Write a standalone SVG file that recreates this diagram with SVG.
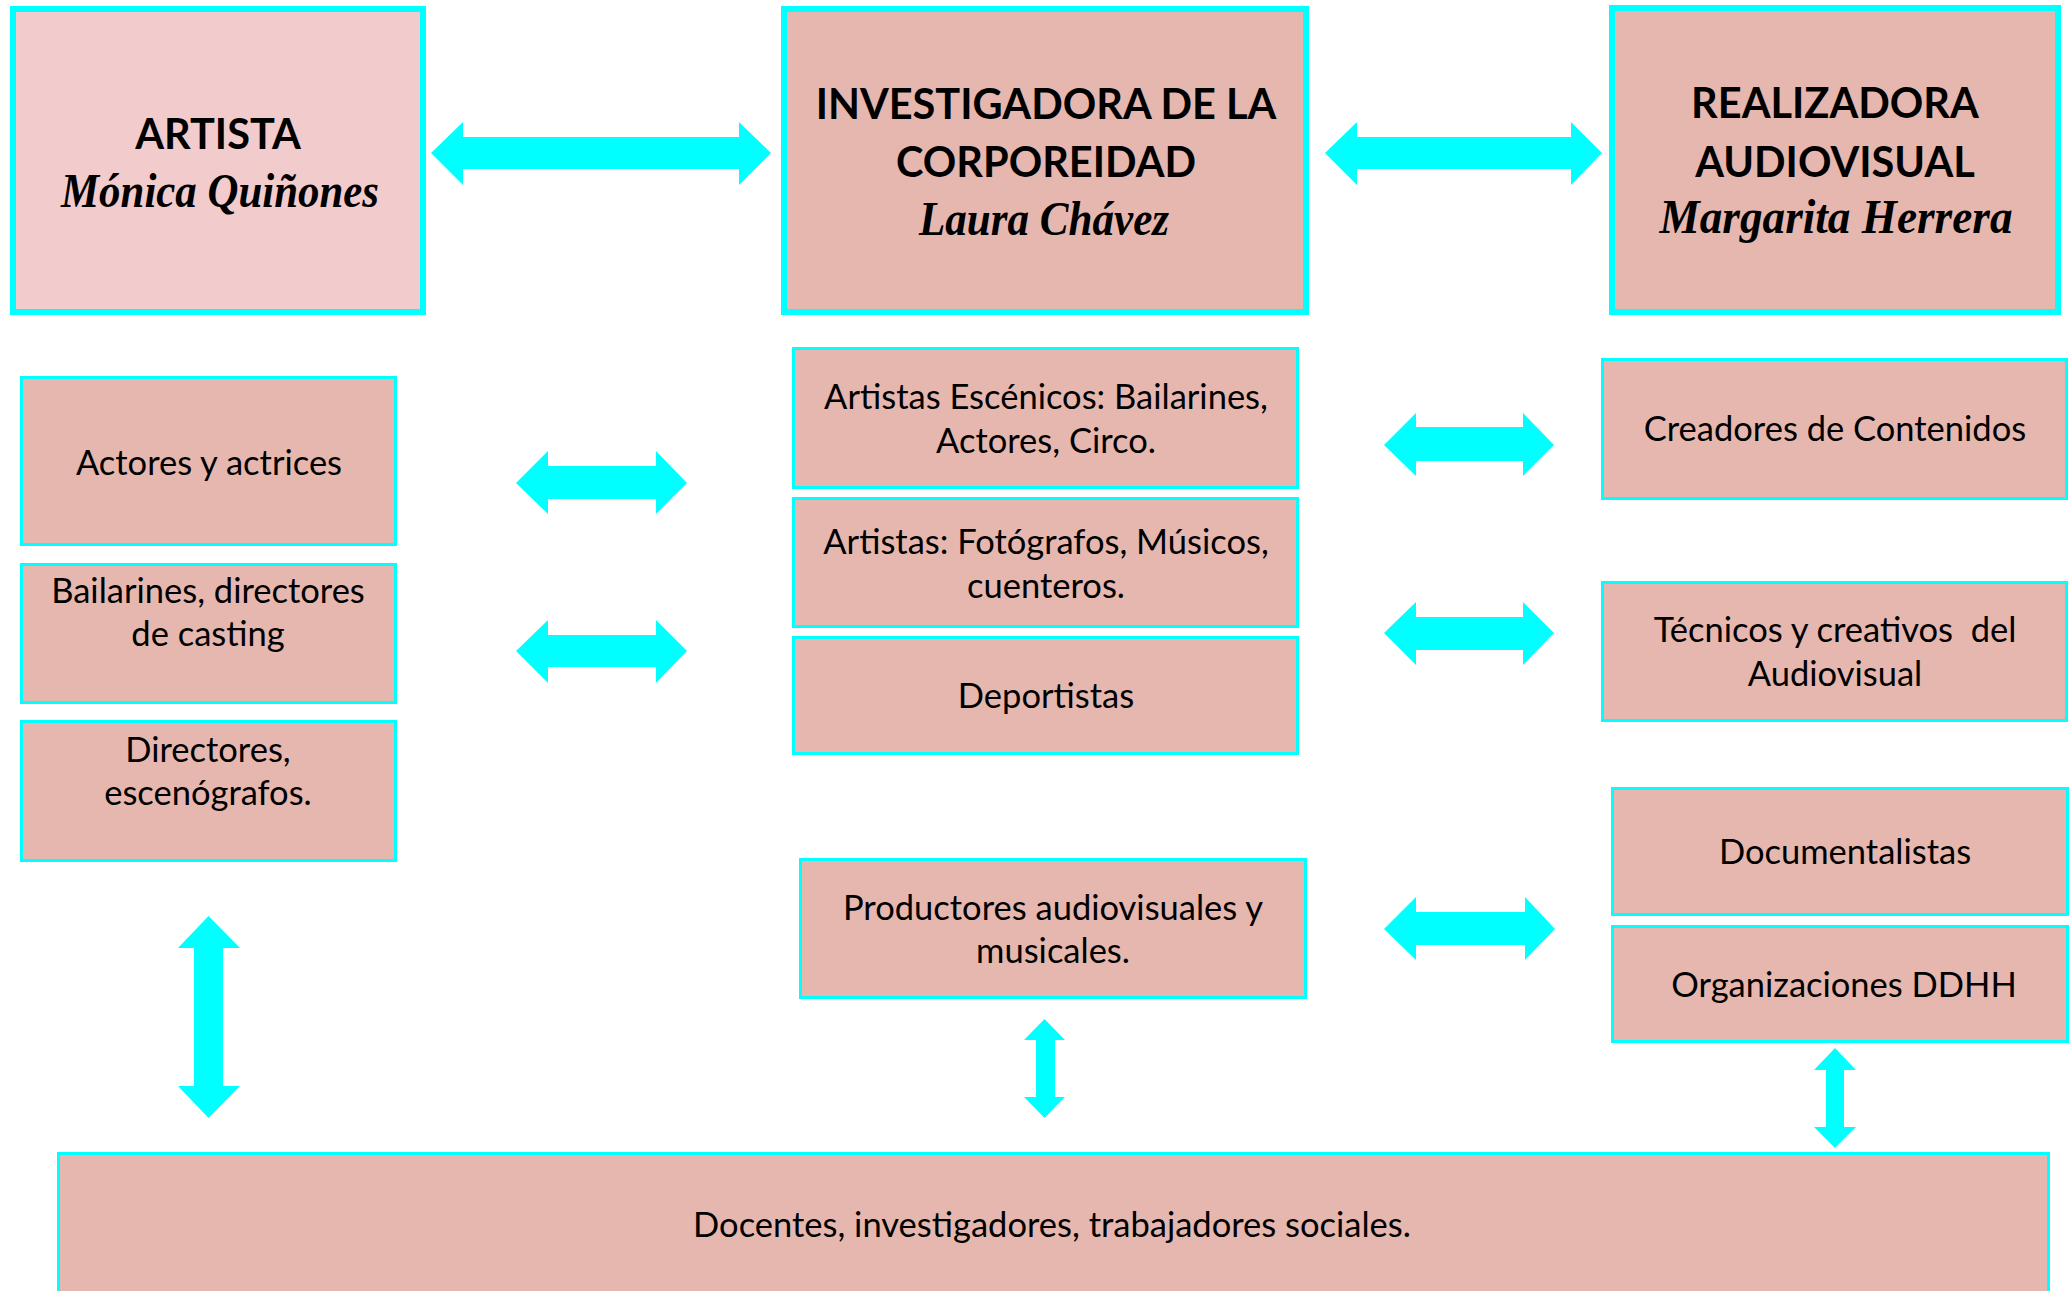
<svg xmlns="http://www.w3.org/2000/svg" width="2070" height="1291" viewBox="0 0 2070 1291">
<style>
.big{fill:#E6B7AF;stroke:#00FFFF;stroke-width:6}
.bigl{fill:#F2CCCC;stroke:#00FFFF;stroke-width:6}
.box{fill:#E6B7AF;stroke:#00FFFF;stroke-width:3}
.h{font-family:Lato,"Liberation Sans",sans-serif;font-weight:bold;font-size:41.5px;fill:#000;text-anchor:middle}
.n{font-family:"Liberation Serif",serif;font-weight:bold;font-style:italic;font-size:48px;fill:#000;text-anchor:middle}
.t{font-family:Lato,"Liberation Sans",sans-serif;font-size:34.5px;fill:#000;text-anchor:middle}
.arr{fill:#00FFFF}
</style>
<rect width="2070" height="1291" fill="#FFFFFF"/>
<g id="connectors">
<polygon class="arr" points="431,153 463,122 463,137 739,137 739,122 771,153 739,185 739,169 463,169 463,185"/>
<polygon class="arr" points="1325,153 1357,122 1357,137 1571,137 1571,122 1602,153 1571,185 1571,169 1357,169 1357,185"/>
<polygon class="arr" points="516,483 548,451 548,466 656,466 656,451 687,483 656,514 656,499 548,499 548,514"/>
<polygon class="arr" points="516,651 548,620 548,635 656,635 656,620 687,651 656,683 656,667 548,667 548,683"/>
<polygon class="arr" points="1384,445 1416,413 1416,427 1523,427 1523,413 1554,445 1523,476 1523,461 1416,461 1416,476"/>
<polygon class="arr" points="1384,633 1416,602 1416,617 1523,617 1523,602 1554,633 1523,665 1523,650 1416,650 1416,665"/>
<polygon class="arr" points="1384,929 1416,897 1416,912 1525,912 1525,897 1555,929 1525,960 1525,945 1416,945 1416,960"/>
<polygon class="arr" points="208.5,916 240,948 223,948 223,1086 240,1086 208.5,1118 178,1086 194,1086 194,948 178,948"/>
<polygon class="arr" points="1044.5,1019 1065,1040 1055,1040 1055,1097 1065,1097 1044.5,1118 1024,1097 1036,1097 1036,1040 1024,1040"/>
<polygon class="arr" points="1835,1048 1856,1070 1844,1070 1844,1127 1856,1127 1835,1148 1814,1127 1826,1127 1826,1070 1814,1070"/>
</g>
<g id="artista">
<rect class="bigl" x="13" y="9" width="410" height="303"/>
<text class="h" x="218" y="149">ARTISTA</text>
<text class="n" x="220" y="207" textLength="318" lengthAdjust="spacingAndGlyphs">Mónica Quiñones</text>
</g>
<g id="investigadora">
<rect class="big" x="784" y="9" width="522" height="303"/>
<text class="h" x="1046" y="119">INVESTIGADORA DE LA</text>
<text class="h" x="1046" y="177">CORPOREIDAD</text>
<text class="n" x="1044" y="235" textLength="250" lengthAdjust="spacingAndGlyphs">Laura Chávez</text>
</g>
<g id="realizadora">
<rect class="big" x="1612" y="8" width="446" height="304"/>
<text class="h" x="1835" y="118">REALIZADORA</text>
<text class="h" x="1835" y="177">AUDIOVISUAL</text>
<text class="n" x="1836" y="233" textLength="353" lengthAdjust="spacingAndGlyphs">Margarita Herrera</text>
</g>
<g id="actores">
<rect class="box" x="21.5" y="377.5" width="374" height="167"/>
<text class="t" x="209" y="475">Actores y actrices</text>
</g>
<g id="bailarines">
<rect class="box" x="21.5" y="564.5" width="374" height="138"/>
<text class="t" x="208" y="603">Bailarines, directores</text>
<text class="t" x="208" y="646">de casting</text>
</g>
<g id="directores">
<rect class="box" x="21.5" y="721.5" width="374" height="139"/>
<text class="t" x="208" y="762">Directores,</text>
<text class="t" x="208" y="805">escenógrafos.</text>
</g>
<g id="escenicos">
<rect class="box" x="793.5" y="348.5" width="504" height="139"/>
<text class="t" x="1046" y="409">Artistas Escénicos: Bailarines,</text>
<text class="t" x="1046" y="453">Actores, Circo.</text>
</g>
<g id="fotografos">
<rect class="box" x="793.5" y="498.5" width="504" height="128"/>
<text class="t" x="1046" y="554">Artistas: Fotógrafos, Músicos,</text>
<text class="t" x="1046" y="598">cuenteros.</text>
</g>
<g id="deportistas">
<rect class="box" x="793.5" y="637.5" width="504" height="116"/>
<text class="t" x="1046" y="708">Deportistas</text>
</g>
<g id="creadores">
<rect class="box" x="1602.5" y="359.5" width="464" height="139"/>
<text class="t" x="1835" y="441">Creadores de Contenidos</text>
</g>
<g id="tecnicos">
<rect class="box" x="1602.5" y="582.5" width="464" height="138"/>
<text class="t" x="1835" y="642" xml:space="preserve">Técnicos y creativos  del</text>
<text class="t" x="1835" y="686">Audiovisual</text>
</g>
<g id="documentalistas">
<rect class="box" x="1612.5" y="788.5" width="455" height="126"/>
<text class="t" x="1845" y="864">Documentalistas</text>
</g>
<g id="organizaciones">
<rect class="box" x="1612.5" y="926.5" width="455" height="115"/>
<text class="t" x="1844" y="997">Organizaciones DDHH</text>
</g>
<g id="productores">
<rect class="box" x="800.5" y="859.5" width="505" height="138"/>
<text class="t" x="1053" y="920">Productores audiovisuales y</text>
<text class="t" x="1053" y="963">musicales.</text>
</g>
<g id="docentes">
<rect class="box" x="58.5" y="1153.5" width="1990" height="160"/>
<text class="t" x="1052" y="1237">Docentes, investigadores, trabajadores sociales.</text>
</g>
</svg>
